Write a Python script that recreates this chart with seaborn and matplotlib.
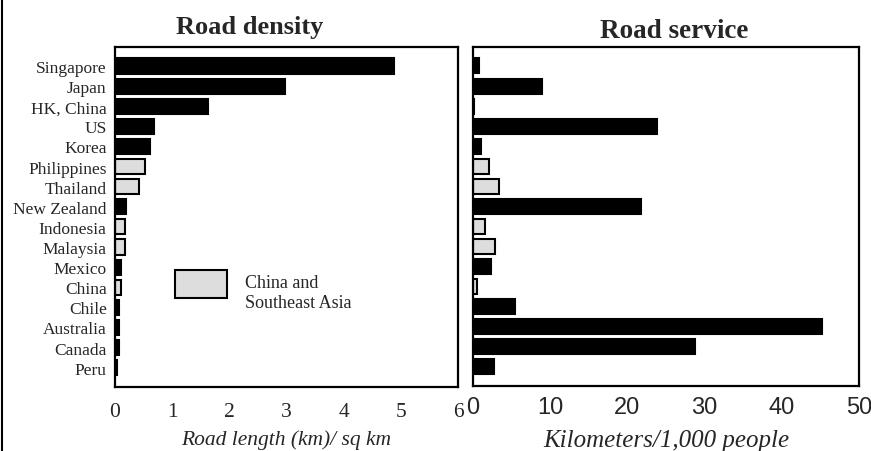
import pandas as pd
import numpy as np
import matplotlib.pyplot as plt
import seaborn as sns
from matplotlib.patches import Rectangle
from matplotlib.lines import Line2D

# data
countries = ["Singapore", "Japan", "HK, China", "US", "Korea", "Philippines", "Thailand",
             "New Zealand", "Indonesia", "Malaysia", "Mexico", "China", "Chile",
             "Australia", "Canada", "Peru"]
density = [4.88, 2.98, 1.62, 0.68, 0.61, 0.52, 0.42, 0.19, 0.17, 0.18, 0.10, 0.10,
           0.07, 0.07, 0.07, 0.04]
service = [0.8, 8.9, 0.2, 23.9, 1.1, 2.1, 3.4, 21.8, 1.5, 2.8, 2.4, 0.5, 5.5,
           45.2, 28.8, 2.7]
asia = ["Philippines", "Thailand", "Indonesia", "Malaysia", "China"]
density_ticks = [0, 1, 2, 3, 4, 5, 6]
service_ticks = [0, 10, 20, 30, 40, 50]

df = pd.DataFrame({"country": countries, "density": density, "service": service})
df["group"] = np.where(df["country"].isin(asia), "asia", "other")
pal = {"asia": "#dddddd", "other": "black"}

sns.set_style("white")
plt.rcParams["font.family"] = ["Liberation Serif", "DejaVu Serif"]

fig = plt.figure(figsize=(8.71, 4.52), dpi=100)
ax1 = fig.add_axes([0.132, 0.142, 0.394, 0.752])
ax2 = fig.add_axes([0.543, 0.144, 0.443, 0.750])

sns.barplot(data=df, y="country", x="density", hue="group", palette=pal, dodge=False,
            width=0.75, edgecolor="black", linewidth=1.5, legend=False, ax=ax1)
sns.barplot(data=df, y="country", x="service", hue="group", palette=pal, dodge=False,
            width=0.75, edgecolor="black", linewidth=1.5, legend=False, ax=ax2)

for ax in (ax1, ax2):
    ax.set_ylim(15.95, -0.95)
    ax.set_ylabel("")
    for s in ax.spines.values():
        s.set_linewidth(1.6)
        s.set_color("black")
    ax.tick_params(axis="x", direction="in", length=5, width=1.3)
    ax.tick_params(axis="y", length=0)

ax1.set_xlim(0, 6)
ax1.set_xticks(density_ticks, [str(t) for t in density_ticks],
               fontfamily="Liberation Serif", fontsize=15.5)
ax1.tick_params(axis="x", pad=11)
ax1.tick_params(axis="y", labelsize=12.5, pad=6)
ax1.set_xlabel("Road length (km)/ sq km", fontsize=15.5, style="italic", labelpad=6)

ax2.set_xlim(0, 50)
ax2.set_xticks(service_ticks, [str(t) for t in service_ticks],
               fontfamily="Liberation Sans", fontsize=17)
ax2.tick_params(axis="x", pad=7)
ax2.set_yticklabels([])
ax2.set_xlabel("Kilometers/1,000 people", fontsize=18, style="italic", labelpad=8)

# legend box
ax1.add_patch(Rectangle((0.174, 0.261), 0.151, 0.082, transform=ax1.transAxes,
                        facecolor="#dddddd", edgecolor="black", linewidth=1.5))
ax1.text(0.378, 0.278, "China and\nSoutheast Asia", transform=ax1.transAxes,
         fontsize=13, va="center", ha="left", linespacing=1.25)

fig.text(0.287, 0.94, "Road density", fontsize=19, fontweight="bold", ha="center", va="center")
fig.text(0.774, 0.93, "Road service", fontsize=19.5, fontweight="bold", ha="center", va="center")

fig.add_artist(Line2D([0.002, 0.002], [0, 1], color="black", linewidth=1.5,
                      transform=fig.transFigure))

plt.savefig("out.png", dpi=100)
